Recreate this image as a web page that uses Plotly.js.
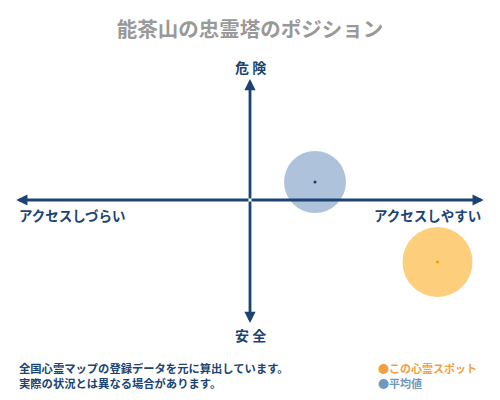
<!DOCTYPE html>
<html>
<head>
<meta charset="utf-8">
<script src="https://cdn.plot.ly/plotly-3.0.1.min.js"></script>
<style>
html, body { margin: 0; padding: 0; background: #fff; }
#chart { width: 500px; height: 400px; }
</style>
</head>
<body>
<div id="chart"></div>
<script>
// positions on the access / danger plane (x: access, y: danger)
var names = ['平均値', 'この心霊スポット'];
var accessX = [2.6, 7.5];
var dangerY = [0.9, -3.1];
var bubbleSize = [62, 70];
var colors = ['rgba(120,155,195,0.6)', 'rgba(252,190,80,0.75)'];
var dotColors = ['#1a3a66', '#f0a000'];

var navy = '#1c4473';
var font = '"Noto Sans CJK JP", "Noto Sans", sans-serif';

var traces = [];
for (var i = 0; i < names.length; i++) {
	traces.push({
		x: [accessX[i]],
		y: [dangerY[i]],
		name: names[i],
		type: 'scatter',
		mode: 'markers',
		hoverinfo: 'skip',
		marker: { size: bubbleSize[i], color: colors[i], line: { width: 0 } }
	});
	traces.push({
		x: [accessX[i]],
		y: [dangerY[i]],
		type: 'scatter',
		mode: 'markers',
		hoverinfo: 'skip',
		marker: { size: 3, color: dotColors[i] }
	});
}

function arrow(x, y) {
	return {
		x: x, y: y, ax: 0, ay: 0,
		xref: 'x', yref: 'y', axref: 'x', ayref: 'y',
		text: '', showarrow: true,
		arrowhead: 2, arrowsize: 0.8, arrowwidth: 2.8, arrowcolor: navy
	};
}

function label(text, x, y, size, color, anchor) {
	return {
		x: x, y: y, xref: 'paper', yref: 'paper',
		text: text, showarrow: false,
		xanchor: anchor || 'center', yanchor: 'middle',
		font: { family: font, size: size, color: color }
	};
}

var layout = {
	width: 500,
	height: 400,
	margin: { l: 0, r: 0, t: 0, b: 0 },
	paper_bgcolor: '#fff',
	plot_bgcolor: '#fff',
	showlegend: false,
	title: {
		text: '<b>能茶山の忠霊塔のポジション</b>',
		x: 0.5, y: 0.925, xanchor: 'center', yanchor: 'middle',
		font: { family: font, size: 20.5, color: '#999' }
	},
	xaxis: { range: [-10, 10], visible: false, fixedrange: true },
	yaxis: { range: [-10, 10], visible: false, fixedrange: true },
	annotations: [
		arrow(9.35, 0), arrow(-9.35, 0), arrow(0, 6.05), arrow(0, -6.15),
		label('<b>危 険</b>', 0.5, 0.832, 14, navy),
		label('<b>安 全</b>', 0.5, 0.162, 14, navy),
		label('<b>アクセスしづらい</b>', 0.034, 0.462, 13.5, navy, 'left'),
		label('<b>アクセスしやすい</b>', 0.966, 0.462, 13.5, navy, 'right'),
		label('<b>全国心霊マップの登録データを元に算出しています。</b>', 0.034, 0.08, 11.3, navy, 'left'),
		label('<b>実際の状況とは異なる場合があります。</b>', 0.034, 0.042, 11.3, navy, 'left'),
		label('<span style="color:#f0a040">●</span><b>この心霊スポット</b>', 0.752, 0.08, 11, '#f0a040', 'left'),
		label('<span style="color:#6f98c0">●</span><b>平均値</b>', 0.752, 0.042, 11, '#6f98c0', 'left')
	]
};

Plotly.newPlot('chart', traces, layout, { staticPlot: true });
</script>
</body>
</html>
